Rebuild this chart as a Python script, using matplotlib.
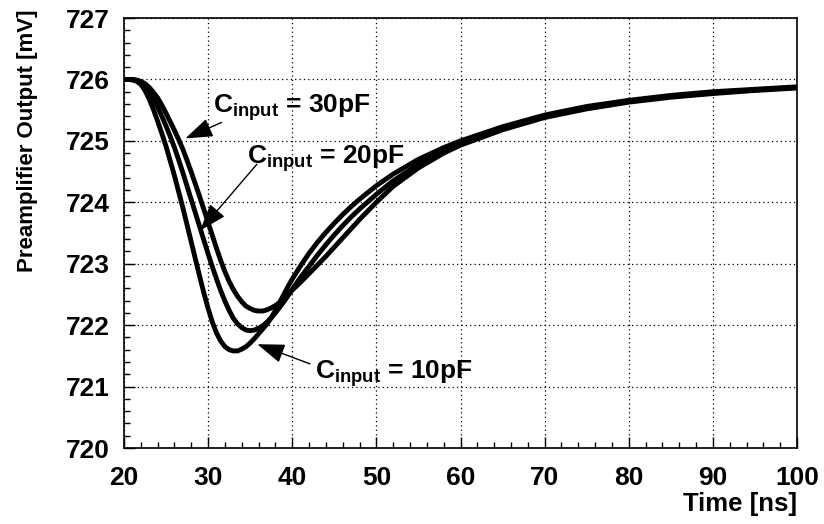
import matplotlib
matplotlib.use("Agg")
import matplotlib.pyplot as plt
from matplotlib.ticker import MultipleLocator

plt.rcParams["font.family"] = ["Liberation Sans", "DejaVu Sans"]
plt.rcParams["font.weight"] = "bold"
plt.rcParams["mathtext.fontset"] = "custom"
plt.rcParams["mathtext.rm"] = "Liberation Sans:bold"
plt.rcParams["mathtext.bf"] = "Liberation Sans:bold"
plt.rcParams["mathtext.it"] = "Liberation Sans:bold"

# time axis [ns] shared by the three traces
t = [20, 20.5, 21, 21.5, 22, 22.5, 23, 23.5, 24, 24.5, 25, 25.5, 26, 26.5, 27,
     27.5, 28, 28.5, 29, 29.5, 30, 30.5, 31, 31.5, 32, 32.5, 33, 33.5, 34, 34.5,
     35, 35.5, 36, 36.5, 37, 37.5, 38, 38.5, 39, 39.5, 40,
     41, 42, 43, 44, 45, 46, 47, 48, 49, 50,
     52, 55, 58, 60, 65, 70, 75, 80, 85, 90, 95, 100]

# preamplifier output [mV]
c10 = [726.00, 726.00, 725.99, 725.97, 725.92, 725.82, 725.68, 725.51, 725.32,
       725.12, 724.91, 724.67, 724.43, 724.17, 723.91, 723.63, 723.35, 723.07,
       722.79, 722.52, 722.27, 722.05, 721.87, 721.74, 721.65, 721.60, 721.58,
       721.58, 721.61, 721.65, 721.71, 721.78, 721.86, 721.94, 722.02, 722.12,
       722.24, 722.37, 722.50, 722.63, 722.75,
       722.97, 723.17, 723.35, 723.51, 723.66, 723.80, 723.93, 724.05, 724.16, 724.27,
       724.46, 724.70, 724.89, 725.00, 725.23, 725.42, 725.56, 725.66, 725.74,
       725.80, 725.84, 725.88]
c20 = [726.00, 726.00, 726.00, 725.98, 725.95, 725.88, 725.80, 725.68, 725.55,
       725.40, 725.24, 725.07, 724.89, 724.69, 724.48, 724.26, 724.04, 723.82,
       723.60, 723.38, 723.16, 722.95, 722.75, 722.56, 722.39, 722.24, 722.11,
       722.02, 721.96, 721.92, 721.91, 721.92, 721.95, 721.99, 722.05, 722.12,
       722.20, 722.29, 722.38, 722.48, 722.58,
       722.78, 722.96, 723.14, 723.31, 723.47, 723.62, 723.76, 723.89, 724.01, 724.13,
       724.35, 724.62, 724.84, 724.96, 725.20, 725.40, 725.54, 725.65, 725.72,
       725.78, 725.83, 725.87]
c30 = [726.00, 726.00, 726.00, 725.99, 725.97, 725.93, 725.87, 725.79, 725.70,
       725.58, 725.45, 725.31, 725.17, 725.02, 724.86, 724.68, 724.49, 724.29,
       724.09, 723.88, 723.67, 723.46, 723.25, 723.05, 722.87, 722.71, 722.58,
       722.47, 722.38, 722.31, 722.27, 722.24, 722.23, 722.23, 722.25, 722.28,
       722.32, 722.37, 722.43, 722.50, 722.57,
       722.70, 722.84, 722.98, 723.12, 723.27, 723.42, 723.57, 723.72, 723.86, 724.00,
       724.26, 724.56, 724.80, 724.93, 725.18, 725.38, 725.52, 725.63, 725.71,
       725.77, 725.82, 725.86]

labels = ["$\\mathrm{C_{input}}$ = 30pF", "$\\mathrm{C_{input}}$ = 20pF",
          "$\\mathrm{C_{input}}$ = 10pF"]

fig = plt.figure(figsize=(8.24, 5.24), dpi=100)
ax = fig.add_axes([124 / 824, 1 - 448 / 524, 673 / 824, 430 / 524])

for y in (c10, c20, c30):
    ax.plot(t, y, color="black", lw=3.5, solid_capstyle="round",
            solid_joinstyle="round")

ax.set_xlim(20, 100)
ax.set_ylim(720, 727)
ax.xaxis.set_major_locator(MultipleLocator(10))
ax.xaxis.set_minor_locator(MultipleLocator(2))
ax.yaxis.set_major_locator(MultipleLocator(1))
ax.yaxis.set_minor_locator(MultipleLocator(0.2))
ax.tick_params(which="both", direction="in", top=False, right=False,
               labelsize=19, width=1)
ax.tick_params(which="major", length=8)
ax.tick_params(which="minor", length=4.5)
ax.tick_params(axis="y", pad=10)
ax.tick_params(axis="x", pad=13)
for lab in ax.get_xticklabels() + ax.get_yticklabels():
    lab.set_fontweight("bold")
ax.grid(True, which="major", color="black", linestyle=(0, (1, 2.5)), lw=0.9)
for s in ax.spines.values():
    s.set_linewidth(1.2)

arrow = dict(arrowstyle="-|>,head_length=1.7,head_width=0.6", color="black",
             lw=1.0, shrinkA=0, shrinkB=0)
ax.annotate("", xy=(27.3, 725.04), xytext=(31.6, 725.30), arrowprops=arrow)
ax.annotate("", xy=(29.05, 723.54), xytext=(35.8, 724.62), arrowprops=arrow)
ax.annotate("", xy=(35.85, 721.69), xytext=(42.1, 721.37), arrowprops=arrow)
ax.text(30.6, 725.46, labels[0], fontsize=19, fontweight="bold", va="baseline")
ax.text(34.6, 724.62, labels[1], fontsize=19, fontweight="bold", va="baseline")
ax.text(42.7, 721.12, labels[2], fontsize=19, fontweight="bold", va="baseline")

fig.text(797 / 824, 1 - 504 / 524, "Time [ns]", fontsize=18.5, fontweight="bold",
         ha="right", va="center")
fig.text(28 / 824, 1 - 10 / 524, "Preamplifier Output [mV]", fontsize=16,
         fontweight="bold", rotation=90, ha="center", va="top")

fig.savefig("out.png", dpi=100)
